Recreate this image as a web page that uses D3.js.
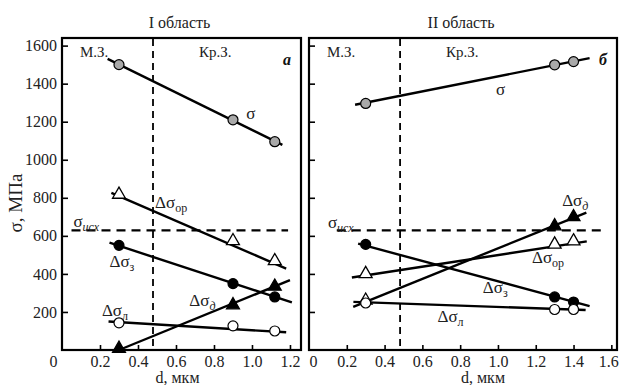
<!DOCTYPE html>
<html>
<head>
<meta charset="utf-8">
<script src="https://cdn.jsdelivr.net/npm/d3@7"></script>
<style>
  body { margin: 0; background: #fff; }
  svg { font-family: "Liberation Serif", "Times New Roman", serif; }
  .tick text { font-size: 16px; fill: #222; font-family: "Liberation Serif", "Times New Roman", serif; }
  .tick line { stroke: #000; stroke-width: 1.6; }
</style>
</head>
<body>
<svg width="619" height="385"></svg>
<script>
// ---- data ----
// I область
var d1 = [0.3, 0.9, 1.12];
var sigma1 = [1500, 1210, 1095];
var dsOp1 = [812, 568, 463];
var dsZ1 = [550, 349, 279];
var dsD1 = [2, 231, 329];
var dsL1 = [143, 127, 100];
// fitted straight lines: [x0, y0, x1, y1]
var fit1 = {sigma: [0.24, 1530, 1.16, 1078], op: [0.26, 826, 1.18, 428], z: [0.25, 564, 1.21, 250],
            d: [0.3, 0, 1.2, 367], l: [0.245, 150, 1.18, 93]};
var isx1 = [0.05, 1.19], isxValue = 629;
var boundary1 = 0.479;

// II область
var d2 = [0.3, 1.3, 1.4];
var sigma2 = [1296, 1499, 1516];
var dsOp2 = [395, 550, 567];
var dsZ2 = [555, 279, 252];
var dsD2 = [255, 646, 694];
var dsL2 = [247, 213, 213];
var fit2 = {sigma: [0.244, 1289, 1.485, 1534], op: [0.227, 381, 1.47, 571], z: [0.26, 559, 1.485, 231],
            d: [0.234, 227, 1.468, 722], l: [0.235, 253, 1.464, 210]};
var isx2 = [0.147, 1.554];
var boundary2 = 0.482;

var yTicks = [200, 400, 600, 800, 1000, 1200, 1400, 1600];
var xTicks1 = [0, 0.2, 0.4, 0.6, 0.8, 1.0, 1.2];
var xTicks2 = [0, 0.2, 0.4, 0.6, 0.8, 1.0, 1.2, 1.4, 1.6];

var svg = d3.select("svg");

var y = d3.scaleLinear().domain([0, 1640]).range([350, 38]);

var panels = [
  {x: d3.scaleLinear().domain([0, 1.258]).range([62, 301]), d: d1, fit: fit1, isx: isx1, bound: boundary1,
   ticks: xTicks1, zeroShift: -9, lastShift: 0, title: "I область", letter: "а", yLabels: true,
   series: [sigma1, dsOp1, dsZ1, dsD1, dsL1]},
  {x: d3.scaleLinear().domain([0, 1.63]).range([309, 617]), d: d2, fit: fit2, isx: isx2, bound: boundary2,
   ticks: xTicks2, zeroShift: 4, lastShift: -3, title: "II область", letter: "б", yLabels: false,
   series: [sigma2, dsOp2, dsZ2, dsD2, dsL2]}
];
var keys = ["sigma", "op", "z", "d", "l"];
var markers = ["grey", "openTri", "dot", "tri", "ring"];

// text labels, positioned in data units: [x, value, main, sub, italicSub]
var labels1 = [
  [0.97, 1215, "σ", "", false], [0.49, 745, "Δσ", "ор", false], [0.06, 645, "σ", "исх", true],
  [0.25, 437, "Δσ", "з", false], [0.67, 230, "Δσ", "д", true], [0.21, 180, "Δσ", "л", false]
];
var labels2 = [
  [0.99, 1340, "σ", "", false], [1.34, 755, "Δσ", "д", true], [0.1, 642, "σ", "исх", true],
  [1.18, 455, "Δσ", "ор", false], [0.92, 300, "Δσ", "з", false], [0.68, 147, "Δσ", "л", false]
];
panels[0].labels = labels1;
panels[1].labels = labels2;

panels.forEach(function(p) {
  var x = p.x;
  var g = svg.append("g");
  var x0 = x.range()[0], x1 = x.range()[1];

  // axes
  var xa = g.append("g").attr("transform", "translate(0,350)")
    .call(d3.axisBottom(x).tickValues(p.ticks).tickSize(-5).tickPadding(6)
      .tickFormat(function(d) { return d === 0 ? "0" : d3.format(".1f")(d); }));
  xa.attr("font-family", null);
  xa.select(".domain").remove();
  xa.selectAll(".tick").filter(function(d) { return d === 0; })
    .select("line").remove();
  xa.selectAll(".tick").filter(function(d) { return d === 0; })
    .select("text").attr("dx", p.zeroShift);
  xa.selectAll(".tick").filter(function(d, i) { return i === p.ticks.length - 1; })
    .select("text").attr("dx", p.lastShift);

  var ya = g.append("g").attr("transform", "translate(" + x0 + ",0)")
    .call(d3.axisLeft(y).tickValues(yTicks).tickSize(-6).tickPadding(5)
      .tickFormat(p.yLabels ? d3.format("d") : ""));
  ya.attr("font-family", null);
  ya.select(".domain").remove();

  // frame
  g.append("rect").attr("x", x0).attr("y", 38).attr("width", x1 - x0).attr("height", 312)
    .attr("fill", "none").attr("stroke", "#000").attr("stroke-width", 2.2);

  // boundary between zones
  g.append("line").attr("x1", x(p.bound)).attr("x2", x(p.bound)).attr("y1", 39).attr("y2", 349)
    .attr("stroke", "#000").attr("stroke-width", 1.8).attr("stroke-dasharray", "7,5");

  // sigma_исх
  g.append("line").attr("x1", x(p.isx[0])).attr("x2", x(p.isx[1]))
    .attr("y1", y(isxValue)).attr("y2", y(isxValue))
    .attr("stroke", "#000").attr("stroke-width", 2.2).attr("stroke-dasharray", "9,6");

  // fitted lines
  keys.forEach(function(k) {
    var f = p.fit[k];
    g.append("line").attr("x1", x(f[0])).attr("y1", y(f[1])).attr("x2", x(f[2])).attr("y2", y(f[3]))
      .attr("stroke", "#000").attr("stroke-width", 2.4);
  });

  // markers
  var tri = d3.symbol().type(d3.symbolTriangle).size(72);
  p.series.forEach(function(vals, i) {
    var m = markers[i];
    vals.forEach(function(v, j) {
      var cx = x(p.d[j]), cy = y(v);
      // first Δσд point of panel II is drawn hollow
      var hollow = (m === "tri" && p.title === "II область" && j === 0);
      if (m === "openTri" || m === "tri") {
        g.append("path").attr("d", tri).attr("transform", "translate(" + cx + "," + (cy - 1) + ")")
          .attr("fill", (m === "tri" && !hollow) ? "#000" : "#fff")
          .attr("stroke", "#000").attr("stroke-width", 1.3);
      } else {
        g.append("circle").attr("cx", cx).attr("cy", cy).attr("r", 5)
          .attr("fill", m === "grey" ? "#a9a9a9" : m === "dot" ? "#000" : "#fff")
          .attr("stroke", "#000").attr("stroke-width", 1.2);
      }
    });
  });

  // zone names, titles
  var mid = (x0 + x1) / 2;
  g.append("text").attr("x", mid - 2).attr("y", 28).attr("text-anchor", "middle")
    .attr("font-size", 16).attr("fill", "#222").text(p.title);
  g.append("text").attr("x", x0 + 18).attr("y", 57).attr("font-size", 15).attr("fill", "#222").text("М.З.");
  g.append("text").attr("x", x(p.bound) + 46).attr("y", 57).attr("font-size", 15).attr("fill", "#222").text("Кр.З.");
  g.append("text").attr("x", x1 - 18).attr("y", 65).attr("font-size", 16).attr("font-style", "italic")
    .attr("font-weight", "bold").attr("fill", "#111").text(p.letter);
  g.append("text").attr("x", mid + (p.yLabels ? -4 : 20)).attr("y", 383).attr("text-anchor", "middle")
    .attr("font-size", 16).attr("fill", "#222").text("d, мкм");

  // series labels
  p.labels.forEach(function(l) {
    var t = g.append("text").attr("x", x(l[0])).attr("y", y(l[1]))
      .attr("font-size", 17).attr("fill", "#222").text(l[2]);
    if (l[3]) {
      t.append("tspan").attr("dy", 4).attr("font-size", 12)
        .attr("font-style", l[4] ? "italic" : "normal").text(l[3]);
    }
  });
});

// y axis title
svg.append("text").attr("transform", "translate(22,203) rotate(-90)").attr("text-anchor", "middle")
  .attr("font-size", 19).attr("fill", "#222").text("σ, МПа");
</script>
</body>
</html>
